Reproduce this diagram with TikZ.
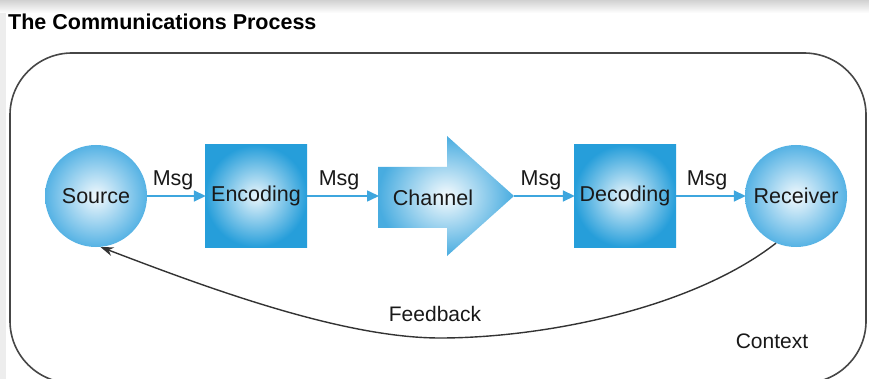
\documentclass[tikz,border=0pt]{standalone}
\usepackage{fontspec}
\setmainfont{Liberation Sans}
\usetikzlibrary{arrows.meta}

\definecolor{circblue}{RGB}{85,178,228}
\definecolor{sqblue}{RGB}{38,158,218}
\definecolor{chblue}{RGB}{72,172,224}
\definecolor{msgblue}{RGB}{62,166,222}
\definecolor{textcol}{RGB}{25,25,25}
\definecolor{framecol}{RGB}{70,70,70}

\tikzset{
  lbl/.style={text=textcol, font=\fontsize{21.5}{25}\selectfont, inner sep=1pt},
  note/.style={text=textcol, font=\fontsize{21}{25}\selectfont, inner sep=1pt},
  endpoint/.style={circle, minimum size=102pt, inner sep=0pt,
    inner color=white!92!circblue, outer color=circblue, lbl},
  coder/.style={rectangle, minimum size=102pt, inner sep=0pt,
    inner color=white!90!sqblue, outer color=sqblue, lbl},
  msg/.style={draw=msgblue, line width=1.6pt,
    -{Triangle[length=12pt,width=11pt]}, shorten >=-1pt},
  msglabel/.style={lbl, above=4pt, pos=0.45},
  feedback/.style={draw=black!80, line width=1.4pt,
    -{Stealth[length=13pt,width=9pt]}},
}

\begin{document}
\begin{tikzpicture}[x=1pt, y=-1pt]
  % page
  \useasboundingbox (0,0) rectangle (869,379);
  \fill[white] (0,0) rectangle (869,379);
  \shade[top color=black!18, bottom color=white] (0,0) rectangle (869,13);
  \fill[black!7] (0,13) rectangle (6,379);

  % heading
  \node[anchor=west, inner sep=0pt, text=black,
        font=\fontsize{21.5}{24}\selectfont\bfseries] (title) at (8,22)
        {The Communications Process};

  % context frame
  \draw[framecol, line width=1.6pt, rounded corners=62pt]
        (10,53) rectangle (866,383);

  % process stages
  \node[endpoint] (src) at (96,196) {Source};
  \node[coder]    (enc) at (256,196) {Encoding};
  \node[coder]    (dec) at (625,196) {Decoding};
  \node[endpoint] (rcv) at (796,196) {Receiver};

  % channel: a fat arrow
  \shade[inner color=white!95!chblue, outer color=chblue]
        (378,167) -- (447,167) -- (447,136) -- (514,196)
        -- (447,256) -- (447,228) -- (378,228) -- cycle;
  \node[lbl] (chan) at (433,198) {Channel};
  \coordinate (chin)  at (378,196);
  \coordinate (chout) at (514,196);

  % message flow
  \draw[msg] (src) -- node[msglabel] {Msg} (enc);
  \draw[msg] (enc) -- node[msglabel] {Msg} (chin);
  \draw[msg] (chout) -- node[msglabel] {Msg} (dec);
  \draw[msg] (dec) -- node[msglabel] {Msg} (rcv);

  % feedback loop
  \draw[feedback] (rcv.247) .. controls (690,310) and (540,338) .. (440,338)
        .. controls (340,338) and (200,285) .. (src.275);
  \node[note] (fb) at (435,314) {Feedback};
  \node[note] (ctx) at (772,341) {Context};
\end{tikzpicture}
\end{document}
